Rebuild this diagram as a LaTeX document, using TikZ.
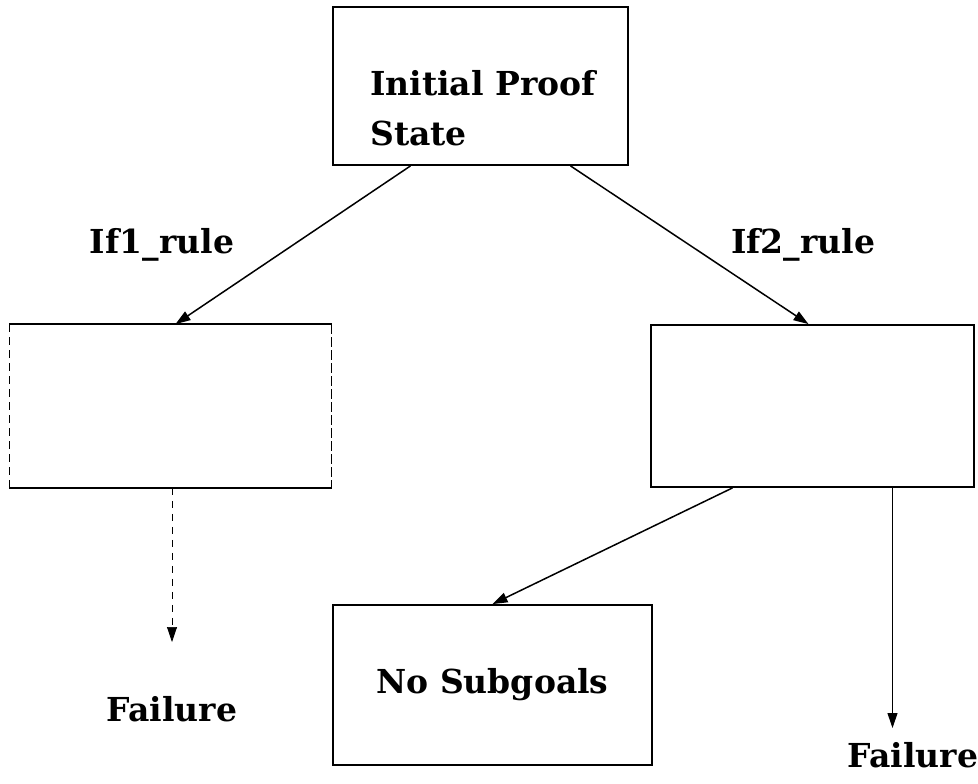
\documentclass[tikz,border=0pt]{standalone}
\usepackage{fontspec}
\setmainfont{DejaVu Serif}
\usetikzlibrary{arrows.meta}

\tikzset{
	box/.style = {draw, line width=1.8pt, minimum width=#1, minimum height=160pt, inner sep=0pt},
	txt/.style = {font=\fontsize{33}{50}\selectfont\bfseries, inner sep=0pt},
	goal/.style = {-{Triangle[length=15pt, width=10pt]}, line width=1.5pt},
}

\begin{document}
\begin{tikzpicture}[x=1pt, y=-1pt]
	\useasboundingbox (0,0) rectangle (978,784);
	
	% boxes
	\node[box=295pt, minimum height=158pt] (init) at (480.5,86) {};
	\node[txt, align=left] (inittxt) at (483,108) {Initial Proof\\State};
	
	\node[box=321pt, minimum height=162pt, draw=none] (ifone) at (170.5,406) {};
	\draw[line width=1.8pt] (ifone.north west) -- (ifone.north east);
	\draw[line width=1.8pt] (ifone.south west) -- (ifone.south east);
	\draw[line width=0.6pt, dash pattern=on 8pt off 5pt] (ifone.north west) -- (ifone.south west);
	\draw[line width=0.9pt, dash pattern=on 10pt off 3pt] (ifone.north east) -- (ifone.south east);
	
	\node[box=323pt, minimum height=162pt] (iftwo) at (812.5,406) {};
	\node[box=319pt] (nosub) at (492.5,685) {};
	\node[txt] (nosubtxt) at (492.5,685) {No Subgoals};
	
	% labels
	\node[txt] (ruleone) at (162,245) {If1\_rule};
	\node[txt] (ruletwo) at (803,245) {If2\_rule};
	\node[txt, anchor=north] (failone) at (172,696) {Failure};
	\node[txt, anchor=north] (failtwo) at (913,742) {Failure};
	
	% arrows
	\draw[goal] ([xshift=-70pt]init.south) -- ([xshift=5pt]ifone.north);
	\draw[goal] ([xshift=90pt]init.south) -- ([xshift=-4pt]iftwo.north);
	\draw[goal] ([xshift=-80pt]iftwo.south) -- (nosub.north);
	
	\coordinate (fone) at ([xshift=1.5pt]ifone.south);
	\draw[goal, line width=0.7pt, dash pattern=on 7pt off 6pt] (fone) -- ([yshift=54pt]fone |- failone.north);
	
	\coordinate (ftwo) at ([xshift=80pt]iftwo.south);
	\draw[goal, line width=1pt] (ftwo) -- ([yshift=14pt]ftwo |- failtwo.north);
\end{tikzpicture}
\end{document}
